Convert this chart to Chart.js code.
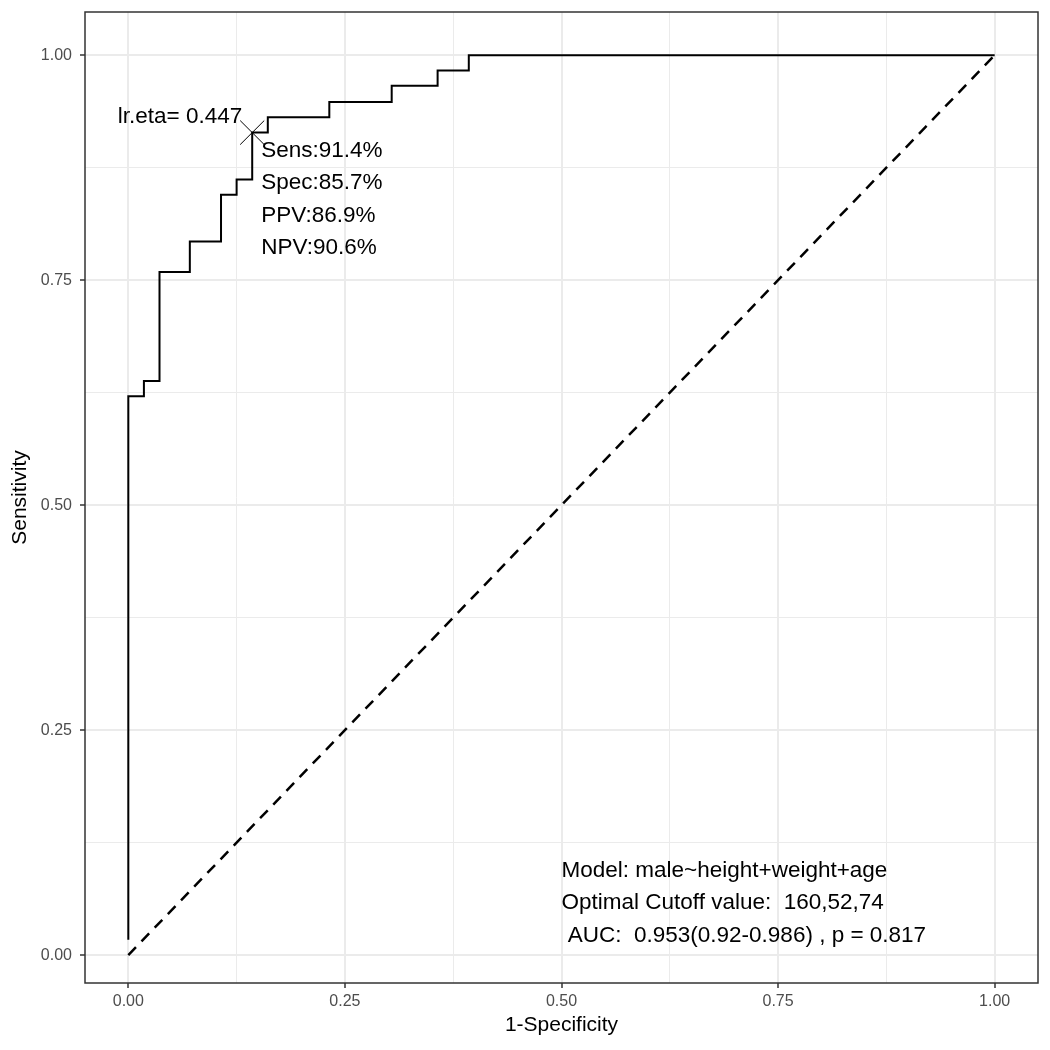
<!DOCTYPE html>
<html>
<head>
<meta charset="utf-8">
<script src="https://cdn.jsdelivr.net/npm/chart.js@4/dist/chart.umd.min.js"></script>
<style>
  html, body { margin: 0; padding: 0; background: #fff; }
  #wrap { width: 1050px; height: 1050px; }
</style>
</head>
<body>
<div id="wrap"><canvas id="rocChart" width="1050" height="1050"></canvas></div>
<script>
// ROC curve corner points (1-specificity, sensitivity)
const fpr = [0, 0, 0.018, 0.036, 0.071, 0.107, 0.125, 0.143, 0.161, 0.232, 0.304, 0.357, 0.393, 1.0];
const tpr = [0.017, 0.621, 0.638, 0.759, 0.793, 0.845, 0.862, 0.914, 0.931, 0.948, 0.966, 0.983, 1.0, 1.0];

// reference diagonal
const diagX = [0, 1];
const diagY = [0, 1];

// optimal cutoff point
const cutX = [0.143];
const cutY = [0.914];
const cutLabel = 'lr.eta= 0.447';
const statLines = ['Sens:91.4%', 'Spec:85.7%', 'PPV:86.9%', 'NPV:90.6%'];

const modelLines = [
    'Model: male~height+weight+age',
    'Optimal Cutoff value:  160,52,74',
    ' AUC:  0.953(0.92-0.986) , p = 0.817'
];

const majorTicks = [0, 0.25, 0.5, 0.75, 1];
const tickLabels = ['0.00', '0.25', '0.50', '0.75', '1.00'];

const FONT = '"Liberation Sans", Arial, Helvetica, sans-serif';

const toPoints = (xs, ys) => xs.map((x, i) => ({x: x, y: ys[i]}));

const isMajor = (v) => majorTicks.some(m => Math.abs(m - v) < 1e-6);

const labelFor = (v) => {
    const i = majorTicks.findIndex(m => Math.abs(m - v) < 1e-6);
    return i >= 0 ? tickLabels[i] : '';
};

const gridOpts = {
    color: '#EBEBEB',
    lineWidth: (ctx) => (ctx.tick && isMajor(ctx.tick.value)) ? 2 : 1,
    tickColor: (ctx) => (ctx.tick && isMajor(ctx.tick.value)) ? '#333333' : 'rgba(0,0,0,0)',
    tickLength: 5,
    tickWidth: 1.5
};

const textPlugin = {
    id: 'rocText',
    afterDatasetsDraw(chart) {
        const ctx = chart.ctx;
        const xs = chart.scales.x;
        const ys = chart.scales.y;
        const px = xs.getPixelForValue(cutX[0]);
        const py = ys.getPixelForValue(cutY[0]);

        ctx.save();
        ctx.fillStyle = '#000';
        ctx.font = '22.5px ' + FONT;
        ctx.textBaseline = 'middle';

        ctx.textAlign = 'right';
        ctx.fillText(cutLabel, px - 10, py - 16);

        ctx.textAlign = 'left';
        statLines.forEach((t, i) => {
            ctx.fillText(t, px + 9, py + 18 + i * 32.5);
        });

        const mx = xs.getPixelForValue(0.5);
        const my = ys.getPixelForValue(0.094);
        modelLines.forEach((t, i) => {
            ctx.fillText(t, mx, my + i * 32.7);
        });

        // panel border
        const a = chart.chartArea;
        ctx.strokeStyle = '#333333';
        ctx.lineWidth = 1.5;
        ctx.strokeRect(a.left, a.top, a.right - a.left, a.bottom - a.top);
        ctx.restore();
    }
};

const canvas = document.getElementById('rocChart');
const ctx = canvas.getContext('2d');

new Chart(ctx, {
    type: 'scatter',
    data: {
        datasets: [
            {
                label: 'ROC',
                data: toPoints(fpr, tpr),
                showLine: true,
                stepped: 'before',
                borderColor: '#000',
                borderWidth: 2,
                pointRadius: 0,
                fill: false
            },
            {
                label: 'Diagonal',
                data: toPoints(diagX, diagY),
                showLine: true,
                borderColor: '#000',
                borderWidth: 2.5,
                borderDash: [11, 8],
                pointRadius: 0,
                fill: false
            },
            {
                label: 'Cutoff',
                data: toPoints(cutX, cutY),
                showLine: false,
                pointStyle: 'crossRot',
                pointRadius: 17,
                pointBorderWidth: 1,
                pointBorderColor: '#000',
                pointBackgroundColor: '#000'
            }
        ]
    },
    options: {
        responsive: false,
        devicePixelRatio: 1,
        animation: false,
        layout: { autoPadding: false, padding: { top: 12, right: 12, left: 0, bottom: 0 } },
        plugins: {
            legend: { display: false },
            tooltip: { enabled: false }
        },
        scales: {
            x: {
                type: 'linear',
                min: -0.05,
                max: 1.05,
                afterFit: (scale) => {
                    scale.height = 67;
                    scale.paddingLeft = 0;
                    scale.paddingRight = 0;
                },
                ticks: {
                    stepSize: 0.125,
                    includeBounds: false,
                    autoSkip: false,
                    maxRotation: 0,
                    padding: 4,
                    color: '#4D4D4D',
                    font: { family: FONT, size: 16 },
                    callback: (v) => labelFor(v)
                },
                grid: gridOpts,
                border: { display: false },
                title: {
                    display: true,
                    text: '1-Specificity',
                    color: '#000',
                    font: { family: FONT, size: 21 },
                    padding: { top: 0, bottom: 12 }
                }
            },
            y: {
                type: 'linear',
                min: -0.031,
                max: 1.048,
                afterFit: (scale) => {
                    scale.width = 85;
                    scale.paddingTop = 0;
                    scale.paddingBottom = 0;
                },
                ticks: {
                    stepSize: 0.125,
                    includeBounds: false,
                    autoSkip: false,
                    padding: 8,
                    color: '#4D4D4D',
                    font: { family: FONT, size: 16 },
                    callback: (v) => labelFor(v)
                },
                grid: gridOpts,
                border: { display: false },
                title: {
                    display: true,
                    text: 'Sensitivity',
                    color: '#000',
                    font: { family: FONT, size: 21 },
                    padding: { top: 8, bottom: 0 }
                }
            }
        }
    },
    plugins: [textPlugin]
});
</script>
</body>
</html>
